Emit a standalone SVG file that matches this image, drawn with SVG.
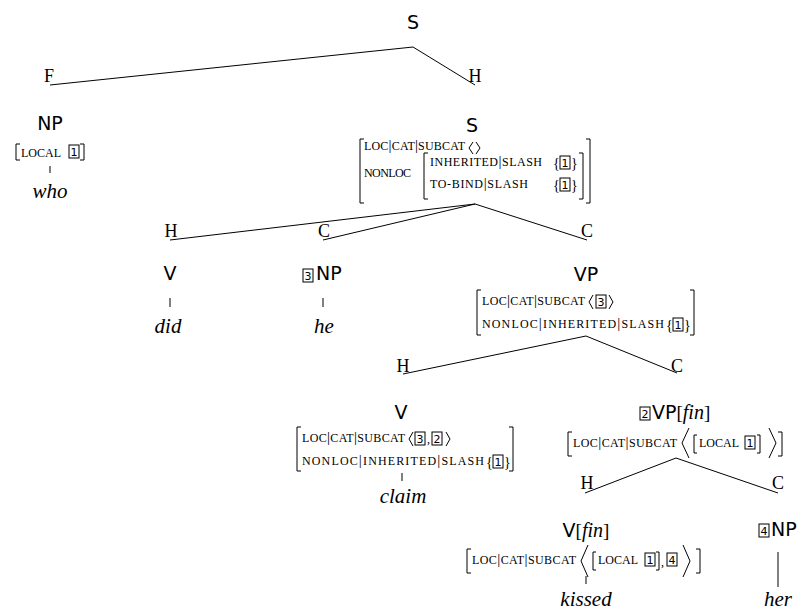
<svg xmlns="http://www.w3.org/2000/svg" width="802" height="614" viewBox="0 0 802 614">
<defs>
<style>
.cat{font-family:"DejaVu Sans",sans-serif;font-size:19px;fill:#000}
.mid{text-anchor:middle}
.lab{font-family:"Liberation Serif",serif;font-size:18px;text-anchor:middle;fill:#000}
.word{font-family:"Liberation Serif",serif;font-style:italic;font-size:21px;text-anchor:middle;fill:#000}
.sr{font-family:"Liberation Serif",serif;font-style:normal}
.it{font-family:"Liberation Serif",serif;font-style:italic;font-size:20px}
.f{font-family:"Liberation Serif",serif;font-size:12px;fill:#000}
.bar{font-size:15px}
.brace{font-family:"Liberation Serif",serif;font-size:14px;fill:#000}
.br{fill:none;stroke:#000;stroke-width:1}
.edge{fill:none;stroke:#000;stroke-width:1}
.num{font-family:"DejaVu Sans",sans-serif;font-size:11px;text-anchor:middle;fill:#000}
</style>
<rect id="box" width="10" height="13" fill="none" stroke="#000" stroke-width="1"/>
</defs>
<rect width="802" height="614" fill="#fff"/>

<g id="connectors">
<path class="edge" d="M413,47 L50,85 M413,47 L475,85"/>
<path class="edge" d="M475,204 L170,240 M475,204 L323,240 M475,204 L587,240"/>
<path class="edge" d="M586,336 L403,374 M586,336 L677,373"/>
<path class="edge" d="M676,458 L585,493 M676,458 L778,493"/>
<path class="edge" d="M50,166 V173 M170,298 V307 M323,298 V307 M402,473 V481 M586,576 V584 M778,552 V587"/>
</g>

<g id="root">
<text class="cat mid" x="413" y="29">S</text>
</g>
<g id="f-label"><text class="lab" x="49" y="82">F</text></g>
<g id="h-label-top"><text class="lab" x="475" y="82">H</text></g>

<g id="np-who">
<text class="cat mid" x="50" y="130">NP</text>
<path class="br" d="M20,144 H16 V160 H20 M80,144 H84 V160 H80"/>
<text class="f" x="21" y="157" textLength="40" lengthAdjust="spacing">LOCAL</text>
<use href="#box" x="69" y="145"/><text class="num" x="74" y="156">1</text>
<text class="word" x="50" y="198">who</text>
</g>

<g id="s-head">
<text class="cat mid" x="472" y="132">S</text>
<path class="br" d="M364,139 H360 V203 H364 M586,139 H590 V203 H586"/>
<text class="f" x="364" y="150" textLength="101" lengthAdjust="spacing">LOC<tspan class="bar">|</tspan>CAT<tspan class="bar">|</tspan>SUBCAT</text>
<path class="br" d="M473,142 L469,148 L473,154 M476,142 L480,148 L476,154"/>
<text class="f" x="364" y="177" textLength="47" lengthAdjust="spacing">NONLOC</text>
<path class="br" d="M428,153 H424 V199 H428 M579,153 H583 V199 H579"/>
<text class="f" x="430" y="166" textLength="112" lengthAdjust="spacing">INHERITED<tspan class="bar">|</tspan>SLASH</text>
<text class="brace" x="553" y="168">{</text><use href="#box" x="560" y="156"/><text class="num" x="565" y="167">1</text><text class="brace" x="571" y="168">}</text>
<text class="f" x="430" y="188" textLength="98" lengthAdjust="spacing">TO-BIND<tspan class="bar">|</tspan>SLASH</text>
<text class="brace" x="553" y="190">{</text><use href="#box" x="560" y="178"/><text class="num" x="565" y="189">1</text><text class="brace" x="571" y="190">}</text>
</g>

<g id="h-label-1"><text class="lab" x="171" y="237">H</text></g>
<g id="c-label-1"><text class="lab" x="324" y="237">C</text></g>
<g id="c-label-2"><text class="lab" x="587" y="237">C</text></g>

<g id="v-did">
<text class="cat mid" x="170" y="280">V</text>
<text class="word" x="168" y="333">did</text>
</g>

<g id="np-he">
<use href="#box" x="303" y="269"/><text class="num" x="308" y="280">3</text>
<text class="cat" x="316" y="280">NP</text>
<text class="word" x="324" y="333">he</text>
</g>

<g id="vp">
<text class="cat mid" x="586" y="281">VP</text>
<path class="br" d="M481,290 H477 V335 H481 M690,290 H694 V335 H690"/>
<text class="f" x="482" y="305" textLength="103" lengthAdjust="spacing">LOC<tspan class="bar">|</tspan>CAT<tspan class="bar">|</tspan>SUBCAT</text>
<path class="br" d="M593,295 L589,302 L593,309 M609,295 L613,302 L609,309"/>
<use href="#box" x="596" y="295"/><text class="num" x="601" y="306">3</text>
<text class="f" x="482" y="328" textLength="182" lengthAdjust="spacing">NONLOC<tspan class="bar">|</tspan>INHERITED<tspan class="bar">|</tspan>SLASH</text>
<text class="brace" x="666" y="330">{</text><use href="#box" x="673" y="318"/><text class="num" x="678" y="329">1</text><text class="brace" x="684" y="330">}</text>
</g>

<g id="h-label-2"><text class="lab" x="403" y="372">H</text></g>
<g id="c-label-3"><text class="lab" x="677" y="372">C</text></g>

<g id="v-claim">
<text class="cat mid" x="401" y="419">V</text>
<path class="br" d="M301,427 H297 V471 H301 M509,427 H513 V471 H509"/>
<text class="f" x="302" y="442" textLength="103" lengthAdjust="spacing">LOC<tspan class="bar">|</tspan>CAT<tspan class="bar">|</tspan>SUBCAT</text>
<path class="br" d="M413,432 L409,439 L413,446 M446,432 L450,439 L446,446"/>
<use href="#box" x="415" y="432"/><text class="num" x="420" y="443">3</text>
<text class="f" x="427" y="443">,</text>
<use href="#box" x="432" y="432"/><text class="num" x="437" y="443">2</text>
<text class="f" x="302" y="465" textLength="182" lengthAdjust="spacing">NONLOC<tspan class="bar">|</tspan>INHERITED<tspan class="bar">|</tspan>SLASH</text>
<text class="brace" x="486" y="467">{</text><use href="#box" x="493" y="455"/><text class="num" x="498" y="466">1</text><text class="brace" x="504" y="467">}</text>
<text class="word" x="403" y="503">claim</text>
</g>

<g id="vp-fin">
<use href="#box" x="640" y="407"/><text class="num" x="645" y="418">2</text>
<text class="cat" x="652" y="419">VP<tspan class="sr">[</tspan><tspan class="it">fin</tspan><tspan class="sr">]</tspan></text>
<path class="br" d="M572,432 H568 V456 H572 M778,432 H782 V456 H778"/>
<text class="f" x="573" y="447" textLength="104" lengthAdjust="spacing">LOC<tspan class="bar">|</tspan>CAT<tspan class="bar">|</tspan>SUBCAT</text>
<path class="br" d="M689,428 L682,443 L689,458 M769,428 L776,443 L769,458"/>
<path class="br" d="M697,435 H694 V453 H697 M757,435 H760 V453 H757"/>
<text class="f" x="699" y="447" textLength="40" lengthAdjust="spacing">LOCAL</text>
<use href="#box" x="745" y="436"/><text class="num" x="750" y="447">1</text>
</g>

<g id="h-label-3"><text class="lab" x="587" y="489">H</text></g>
<g id="c-label-4"><text class="lab" x="778" y="489">C</text></g>

<g id="v-fin">
<text class="cat mid" x="586" y="537">V<tspan class="sr">[</tspan><tspan class="it">fin</tspan><tspan class="sr">]</tspan></text>
<path class="br" d="M471,549 H467 V573 H471 M696,549 H700 V573 H696"/>
<text class="f" x="472" y="564" textLength="104" lengthAdjust="spacing">LOC<tspan class="bar">|</tspan>CAT<tspan class="bar">|</tspan>SUBCAT</text>
<path class="br" d="M588,545 L581,561 L588,577 M683,545 L690,561 L683,577"/>
<path class="br" d="M596,552 H593 V570 H596 M656,552 H659 V570 H656"/>
<text class="f" x="598" y="564" textLength="40" lengthAdjust="spacing">LOCAL</text>
<use href="#box" x="645" y="553"/><text class="num" x="650" y="564">1</text>
<text class="f" x="661" y="566">,</text>
<use href="#box" x="667" y="553"/><text class="num" x="672" y="564">4</text>
<text class="word" x="586" y="606">kissed</text>
</g>

<g id="np-her">
<use href="#box" x="759" y="524"/><text class="num" x="764" y="535">4</text>
<text class="cat" x="771" y="536">NP</text>
<text class="word" x="778" y="606">her</text>
</g>
</svg>
